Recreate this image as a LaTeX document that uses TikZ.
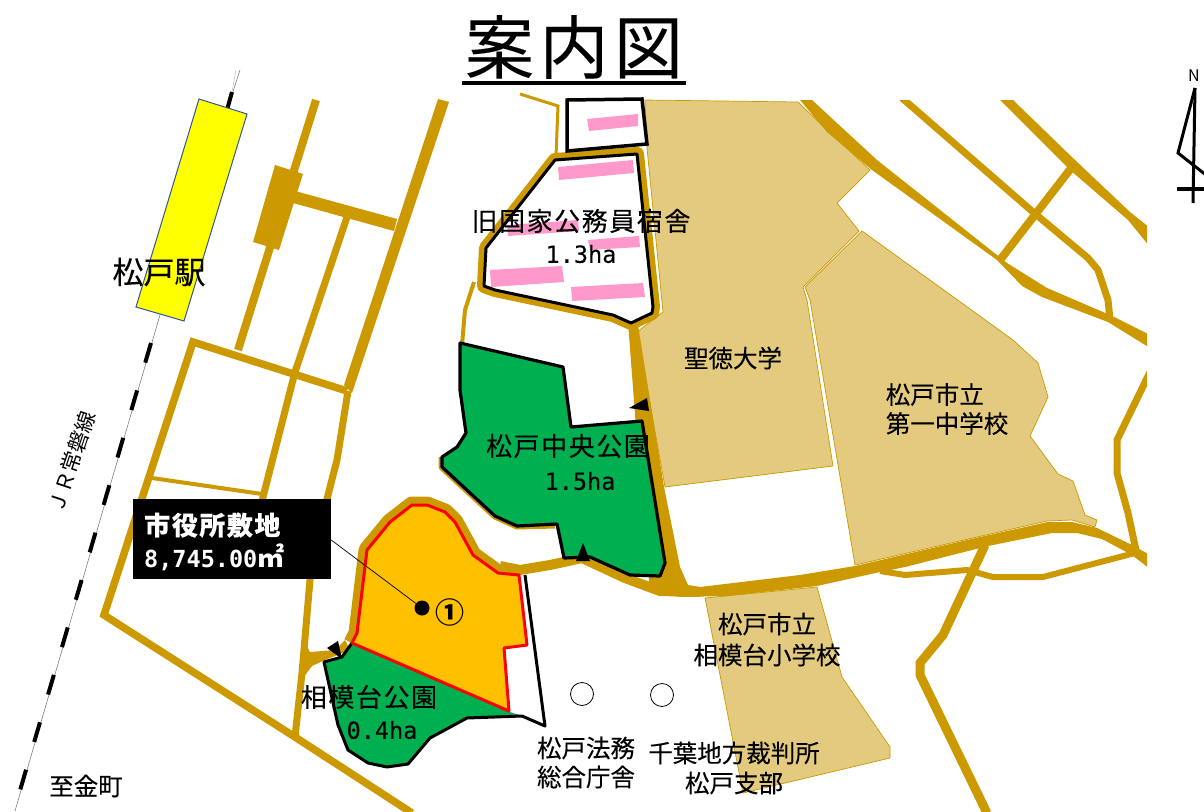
\documentclass[tikz,border=0pt]{standalone}
\usepackage{fontspec}
\setmainfont{Noto Sans CJK JP}
\newfontfamily\jpa[LetterSpace=6,FakeBold=0.12]{Noto Sans CJK JP}
\newfontfamily\jpb[FakeBold=0.12]{Noto Sans CJK JP}
\newfontfamily\jpc[LetterSpace=8,FakeBold=0.12]{Noto Sans CJK JP}
\newfontfamily\latm[FakeBold=0.1]{DejaVu Sans Mono}
\newfontfamily\latb{DejaVu Sans Mono Bold}
\definecolor{road}{HTML}{CC9900}
\definecolor{tan}{HTML}{E3CA7E}
\definecolor{parkgreen}{HTML}{00B050}
\definecolor{site}{HTML}{FFC000}
\definecolor{pinkb}{HTML}{FF99CC}
\definecolor{sta}{HTML}{2F5597}
\definecolor{stafill}{HTML}{FFFF00}
\tikzset{
  x=1pt,y=-1pt,
  rd/.style={draw=road,line width=#1},
  rd/.default=7,
  rdfill/.style={fill=road,draw=none},
  school/.style={fill=tan,draw=road,line width=0.7},
  pinkbar/.style={fill=pinkb,draw=none},
  lab/.style={font=\jpb\fontsize{24.5}{29}\selectfont,align=center,inner sep=0},
  labw/.style={font=\jpa\fontsize{26}{29}\selectfont,align=center,inner sep=0},
  ha/.style={font=\latm\fontsize{23.5}{29}\selectfont,inner sep=0},
}
\begin{document}
\begin{tikzpicture}
\useasboundingbox (0,0) rectangle (1204,811);
\fill[white] (0,0) rectangle (1204,811);

% railway
\draw[gray,line width=0.6] (240,70) -- (227,110);
\draw[gray!60,line width=0.4] (236,70) -- (232,92);
\draw[gray,line width=0.6] (160,315) -- (15,811);
\draw[black,line width=4] (232,92) -- (227,110);
\draw[black,line width=4,dash pattern=on 20.5pt off 28.9pt] (151,343) -- (14,811);

% station
\fill[fill=stafill,draw=sta,line width=1] (199,99) -- (247,114) -- (184,321) -- (136,307) -- cycle;

% left road grid
\draw[rd=8] (316,100) -- (238,350);
\fill[rdfill] (275,165) -- (303,174) -- (279,250) -- (253,242) -- cycle;
\fill[rdfill] (438,99) -- (449,102) -- (352,393) -- (344,385) -- cycle;
\fill[rdfill] (295,191) -- (397,219) -- (394,231) -- (293,203) -- cycle;
\draw[rd=7] (347,217) -- (295,372) -- (263,497) -- (255,530);
\draw[rd=7] (348,391) -- (337,460) -- (327,499) -- (310,580) -- (302,673) -- (295,737);
\draw[rd=7.5] (347,391) -- (193,342) -- (104,615) -- (295,737) -- (412,813);
\draw[rd=4] (152,478) -- (262,494);

% thin road top and left
\draw[rd=3] (520,94) -- (558,106) -- (556,156);
\draw[rd=4] (474,282) -- (465,310) -- (462,345);

% road between
\fill[rdfill] (304,640) -- (310,652) -- (335,650) -- (345,640) -- (350,650) -- (325,660) -- (312,666) -- (300,682) -- cycle;

% tan areas
\fill[school] (645,100) -- (798,102) -- (827,130) -- (870,170) -- (837,203) -- (859,231) -- (803,287) -- (807,300) -- (833,466) -- (665,487) -- (637,332) -- (663,312) -- (647,148) -- cycle;
\fill[school] (862,231) -- (1013,340) -- (1038,363) -- (1048,397) -- (1030,436) -- (1058,474) -- (1073,481) -- (1085,515) -- (1097,520) -- (1095,527) -- (1072,520) -- (1047,521) -- (855,565) -- (810,300) -- (805,287) -- cycle;
\fill[school] (705,598) -- (817,587) -- (842,677) -- (890,747) -- (890,758) -- (743,793) -- cycle;

% right roads
\begin{scope}
\clip (0,100) rectangle (1147,811);
\fill[rdfill] (800,100) -- (812,100) -- (877,160) -- (1007,263) -- (1047,288) -- (1110,315) -- (1150,335) -- (1150,348) -- (1108,322) -- (1042,297) -- (1022,286) -- (997,260) -- (872,170) -- (827,132) -- cycle;
\draw[rd=7] (902,98) -- (1033,212) -- (1088,258) -- (1098,270) -- (1108,300) -- (1110,320);
\fill[rdfill] (1000,100) -- (1013,100) -- (1075,160) -- (1130,212) -- (1150,228) -- (1150,247) -- (1128,220) -- (1070,170) -- cycle;
\draw[rd=8] (1072,167) -- (1000,260);
% main lower road
\fill[rdfill] (628,322) -- (638,325) -- (664,487) -- (680,567) -- (688,585) -- (700,587) -- (800,575) -- (855,566) -- (980,537) -- (1048,522) -- (1072,522) -- (1097,528) -- (1132,545) -- (1150,555) -- (1150,569) -- (1132,555) -- (1102,539) -- (1077,533) -- (1052,533) -- (988,546) -- (972,550) -- (905,567) -- (880,572) -- (817,586) -- (727,596) -- (680,597) -- (660,594) -- (650,592) -- (640,480) -- cycle;
\draw[rd=6] (880,571) -- (905,575) -- (967,570) -- (993,577) -- (1043,577) -- (1135,553);
\draw[rd=9] (985,545) -- (943,635) -- (920,663) -- (920,675) -- (987,813);
\draw[rd=7] (1150,372) -- (1117,440) -- (1117,473) -- (1128,513) -- (1137,555);
\end{scope}

% road along parks
\draw[road,line width=10,line join=round] (500,566) -- (520,570) -- (550,565) -- (582,558) -- (625,578) -- (660,591) -- (700,592);
\draw[road,line width=7,line join=round] (442,457) -- (442,467) -- (495,516) -- (517,526) -- (555,525);

% former housing
\draw[road,line width=14,line join=round] (555,160) -- (637,154) -- (653,307) -- (652,313) -- (631,323) -- (613,315) -- (495,290) -- (484,286) -- (486,248) -- cycle;
\fill[white] (555,160) -- (637,154) -- (653,307) -- (652,313) -- (631,323) -- (613,315) -- (495,290) -- (484,286) -- (486,248) -- cycle;
\fill[pinkbar] (558,167) -- (633,160) -- (634,173) -- (559,180) -- cycle;
\fill[pinkbar] (507,225) -- (578,220) -- (579,231) -- (508,236) -- cycle;
\fill[pinkbar] (588,240) -- (639,236) -- (640,247) -- (590,250) -- cycle;
\fill[pinkbar] (490,270) -- (562,266) -- (564,282) -- (491,287) -- cycle;
\fill[pinkbar] (571,287) -- (643,283) -- (645,297) -- (572,301) -- cycle;
\draw[black,line width=3,line join=round] (555,160) -- (637,154) -- (653,307) -- (652,313) -- (631,323) -- (613,315) -- (495,290) -- (484,286) -- (486,248) -- cycle;

\fill[fill=white,draw=black,line width=3.5] (567,100) -- (642,99) -- (647,144) -- (567,151) -- cycle;
\fill[pinkbar] (587,119) -- (638,114) -- (638,126) -- (589,131) -- cycle;

% central park
\fill[fill=parkgreen,draw=black,line width=3.2,line join=round] (460,343) -- (563,367) -- (571,427) -- (642,421) -- (665,563) -- (660,576) -- (630,575) -- (590,557) -- (564,558) -- (557,524) -- (517,526) -- (495,516) -- (442,467) -- (442,457) -- (457,447) -- (466,433) -- (460,390) -- cycle;

% sagamidai park and city hall site
\draw[road,line width=17,line join=round] (352,643) -- (357,633) -- (367,550) -- (390,522) -- (412,505) -- (427,505) -- (445,512) -- (455,522) -- (473,555) -- (498,573) -- (519,575);
\fill[parkgreen] (324,662) -- (342,657) -- (352,643) -- (510,712) -- (522,716) -- (467,718) -- (430,738) -- (408,764) -- (387,767) -- (368,763) -- (348,750) -- (338,725) -- cycle;
\draw[black,line width=3,line join=round] (352,643) -- (342,657) -- (324,662) -- (338,725) -- (348,750) -- (368,763) -- (387,767) -- (408,764) -- (430,738) -- (467,718) -- (522,716) -- (545,726) -- (525,575);
\fill[fill=site,draw=red,line width=3,line join=round] (412,505) -- (427,505) -- (445,512) -- (455,522) -- (473,555) -- (498,573) -- (519,575) -- (527,645) -- (504,648) -- (509,711) -- (352,643) -- (357,633) -- (367,550) -- (390,522) -- cycle;

% arrowheads
\fill[black] (327,648) -- (338,641) -- (342,659) -- cycle;
\fill[black] (583,543) -- (576,561) -- (590,561) -- cycle;
\fill[black] (629,408) -- (647,398) -- (649,411) -- cycle;

% circles
\node (c1) at (582,694) [circle,draw=black,line width=0.8,minimum size=23,inner sep=0] {};
\node (c2) at (662,695) [circle,draw=black,line width=0.8,minimum size=23,inner sep=0] {};

% north arrow
\draw[black,line width=3,line join=miter] (1195,88) -- (1178,153) -- (1206,175);
\draw[black,line width=3] (1195,88) -- (1193,203);
\draw[black,line width=3.5] (1177,189) -- (1204,189);
\node (north) at (1194,76) [font=\fontsize{16}{16}\selectfont,inner sep=0] {N};

% callout
\node (box) at (232,539) [fill=black,minimum width=198,minimum height=80,inner sep=0] {};
\node (dot) at (422,608) [circle,fill=black,minimum size=15,inner sep=0] {};
\draw[black,line width=0.7] (box.east |- 0,540) -- (dot);
\node (circ) at (450,612) [font=\bfseries\fontsize{29}{29}\selectfont,inner sep=0] {①};
\node (boxa) at (144,525) [anchor=west,font=\jpa\bfseries\fontsize{26}{29}\selectfont,text=white,inner sep=0] {市役所敷地};
\node (boxb) at (144,557) [anchor=west,font=\fontsize{23.5}{29}\selectfont,text=white,inner sep=0] {{\latb 8,745.00}{\bfseries\fontsize{27}{29}\selectfont ㎡}};

% labels
\node (title) at (574,47) [font=\jpc\fontsize{69}{69}\selectfont,inner sep=0] {案内図};
\draw[black,line width=3.5] (462,83) -- (686,83);
\node (eki) at (159,272) [font=\jpb\fontsize{31}{31}\selectfont,inner sep=0] {松戸駅};
\node (jr) at (71.5,462) [rotate=71.6,font=\fontsize{21}{21}\selectfont,inner sep=0] {ＪＲ常磐線};
\node (kyu) at (581,221) [labw] {旧国家公務員宿舎};
\node (kyuha) at (581,254) [ha] {1.3ha};
\node (seito) at (733,358) [lab] {聖徳大学};
\node (daiichi) at (947,409) [lab,align=left] {松戸市立\\第一中学校};
\node (chuo) at (568,446) [labw] {松戸中央公園};
\node (chuoha) at (580,481) [ha] {1.5ha};
\node (saga) at (369,697) [labw] {相模台公園};
\node (sagaha) at (382,730) [ha] {0.4ha};
\node (ele) at (767,639.5) [lab] {松戸市立\\[2pt]相模台小学校};
\node (homu) at (586,762.5) [lab] {松戸法務\\総合庁舎};
\node (saiban) at (734,768) [lab] {千葉地方裁判所\\[1pt]松戸支部};
\node (kana) at (86,786) [lab] {至金町};
\end{tikzpicture}
\end{document}
